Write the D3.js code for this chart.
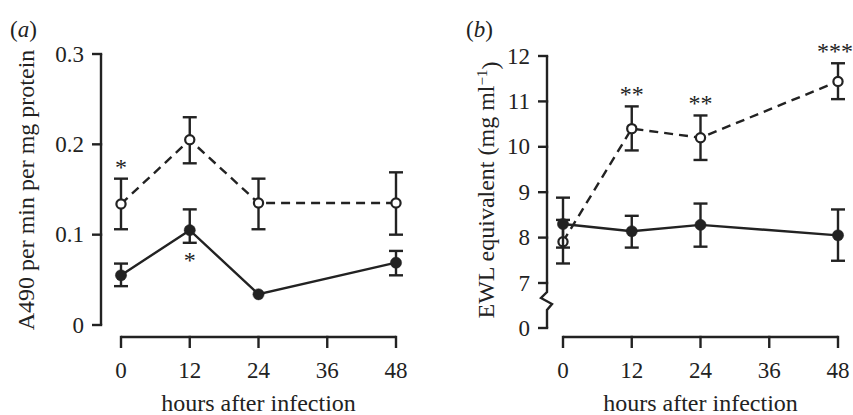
<!DOCTYPE html>
<html>
<head>
<meta charset="utf-8">
<script src="https://cdn.jsdelivr.net/npm/d3@7"></script>
<style>
  body { margin: 0; background: #fff; }
  svg { display: block; }
  text { font-family: "Liberation Serif", "Times New Roman", serif; fill: #222; }
</style>
</head>
<body>
<svg id="chart" width="853" height="415"></svg>
<script>
// x positions (hours)
var hours = [0, 12, 24, 48];
var xTicks = [0, 12, 24, 36, 48];

// panel (a): A490 per min per mg protein
var aOpen = [0.134, 0.205, 0.135, 0.135];
var aOpenLo = [0.106, 0.179, 0.106, 0.100];
var aOpenHi = [0.162, 0.230, 0.162, 0.169];
var aFilled = [0.055, 0.105, 0.034, 0.069];
var aFilledLo = [0.043, 0.091, 0.034, 0.055];
var aFilledHi = [0.068, 0.128, 0.034, 0.082];
var aTicks = [0, 0.1, 0.2, 0.3];
var aTickLabels = ["0", "0.1", "0.2", "0.3"];

// panel (b): EWL equivalent (mg ml-1)
var bOpen = [7.91, 10.40, 10.20, 11.44];
var bOpenLo = [7.43, 9.92, 9.71, 11.05];
var bOpenHi = [8.39, 10.89, 10.69, 11.84];
var bFilled = [8.30, 8.14, 8.28, 8.05];
var bFilledLo = [7.78, 7.78, 7.80, 7.49];
var bFilledHi = [8.88, 8.48, 8.75, 8.62];
var bTicks = [0, 7, 8, 9, 10, 11, 12];

// significance marks
var aStars = [{series: "open", i: 0, text: "*", above: true}, {series: "filled", i: 1, text: "*", above: false}];
var bStars = [{series: "open", i: 1, text: "**", above: true}, {series: "open", i: 2, text: "**", above: true}, {series: "open", i: 3, text: "***", above: true}];

var svg = d3.select("#chart");
var ink = "#222";
var lw = 2.4;
var fs = "23px";
var fsTitle = "24px";

function drawPanel(opt) {
	var g = svg.append("g");
	var x = d3.scaleLinear().domain([0, 48]).range(opt.xRange);
	var y = opt.y;

	// y axis
	if (opt.breakAxis) {
		var xa = opt.axisX;
		var yTop = y(12), y7 = y(7), y0 = y(0);
		g.append("path")
			.attr("d", "M" + xa + "," + yTop + "V" + (y7 + 9) + "L" + (xa - 6) + "," + (y7 + 15) +
				"L" + (xa + 5) + "," + (y7 + 21) + "L" + xa + "," + (y7 + 27) + "V" + y0)
			.attr("fill", "none").attr("stroke", ink).attr("stroke-width", lw);
	} else {
		g.append("line")
			.attr("x1", opt.axisX).attr("x2", opt.axisX)
			.attr("y1", y(opt.yTicks[opt.yTicks.length - 1])).attr("y2", y(opt.yTicks[0]))
			.attr("stroke", ink).attr("stroke-width", lw);
	}
	opt.yTicks.forEach(function(t, k) {
		g.append("line")
			.attr("x1", opt.axisX - 9).attr("x2", opt.axisX + lw / 2)
			.attr("y1", y(t)).attr("y2", y(t))
			.attr("stroke", ink).attr("stroke-width", lw);
		g.append("text")
			.attr("x", opt.axisX - 17).attr("y", y(t))
			.attr("dy", "0.33em")
			.attr("text-anchor", "end")
			.attr("font-size", fs)
			.text(opt.yTickLabels ? opt.yTickLabels[k] : t);
	});

	// x axis
	var xAxisY = 337;
	g.append("line")
		.attr("x1", x(0)).attr("x2", x(48))
		.attr("y1", xAxisY).attr("y2", xAxisY)
		.attr("stroke", ink).attr("stroke-width", lw);
	xTicks.forEach(function(t) {
		g.append("line")
			.attr("x1", x(t)).attr("x2", x(t))
			.attr("y1", xAxisY - lw / 2).attr("y2", xAxisY + 11)
			.attr("stroke", ink).attr("stroke-width", lw);
		g.append("text")
			.attr("x", x(t)).attr("y", 378)
			.attr("text-anchor", "middle")
			.attr("font-size", fs)
			.text(t);
	});
	g.append("text")
		.attr("x", (x(0) + x(48)) / 2).attr("y", 411)
		.attr("text-anchor", "middle")
		.attr("font-size", fsTitle)
		.text("hours after infection");

	// y label
	var yl = g.append("text")
		.attr("transform", "translate(" + opt.yLabelX + "," + opt.yLabelY + ") rotate(-90)")
		.attr("text-anchor", "middle")
		.attr("font-size", fsTitle);
	opt.yLabel(yl);

	// panel letter
	g.append("text")
		.attr("x", opt.letterX).attr("y", 37)
		.attr("font-size", fs)
		.html("(<tspan font-style='italic'>" + opt.letter + "</tspan>)");

	// series
	var series = [
		{name: "filled", v: opt.filled, lo: opt.filledLo, hi: opt.filledHi, dash: null, fill: ink},
		{name: "open", v: opt.open, lo: opt.openLo, hi: opt.openHi, dash: "9,6", fill: "#fff"}
	];
	var order = [series[1], series[0]];
	order.forEach(function(s) {
		var line = d3.line()
			.x(function(d, i) { return x(hours[i]); })
			.y(function(d) { return y(d); });
		g.append("path")
			.datum(s.v)
			.attr("d", line)
			.attr("fill", "none")
			.attr("stroke", ink)
			.attr("stroke-width", lw)
			.attr("stroke-dasharray", s.dash);
		s.v.forEach(function(d, i) {
			var cx = x(hours[i]);
			if (s.hi[i] !== s.lo[i]) {
				g.append("line")
					.attr("x1", cx).attr("x2", cx)
					.attr("y1", y(s.hi[i])).attr("y2", y(s.lo[i]))
					.attr("stroke", ink).attr("stroke-width", lw);
				[s.hi[i], s.lo[i]].forEach(function(e) {
					g.append("line")
						.attr("x1", cx - 7).attr("x2", cx + 7)
						.attr("y1", y(e)).attr("y2", y(e))
						.attr("stroke", ink).attr("stroke-width", lw);
				});
			}
		});
		s.v.forEach(function(d, i) {
			g.append("circle")
				.attr("cx", x(hours[i])).attr("cy", y(d))
				.attr("r", s.name === "open" ? 4.6 : 5.6)
				.attr("fill", s.fill)
				.attr("stroke", ink)
				.attr("stroke-width", s.name === "open" ? 2.2 : 0.5);
		});
	});

	// stars
	opt.stars.forEach(function(st) {
		var s = st.series === "open" ? series[1] : series[0];
		var cx = x(hours[st.i]);
		var yy = st.above ? y(s.hi[st.i]) - 4 : y(s.lo[st.i]) + 25;
		g.append("text")
			.attr("x", cx - (st.text.length > 2 ? 3 : 0)).attr("y", yy)
			.attr("text-anchor", "middle")
			.attr("font-size", "24px")
			.text(st.text);
	});
}

drawPanel({
	xRange: [121, 396],
	axisX: 101,
	y: d3.scaleLinear().domain([0, 0.3]).range([325, 54]),
	yTicks: aTicks,
	yTickLabels: aTickLabels,
	open: aOpen, openLo: aOpenLo, openHi: aOpenHi,
	filled: aFilled, filledLo: aFilledLo, filledHi: aFilledHi,
	stars: aStars,
	letter: "a", letterX: 10,
	yLabelX: 34, yLabelY: 190,
	yLabel: function(t) { t.text("A490 per min per mg protein"); }
});

drawPanel({
	xRange: [563, 838],
	axisX: 547,
	y: d3.scaleLinear().domain([0, 7, 12]).range([328, 283, 56]),
	yTicks: bTicks,
	breakAxis: true,
	open: bOpen, openLo: bOpenLo, openHi: bOpenHi,
	filled: bFilled, filledLo: bFilledLo, filledHi: bFilledHi,
	stars: bStars,
	letter: "b", letterX: 466,
	yLabelX: 494, yLabelY: 190,
	yLabel: function(t) {
		t.append("tspan").text("EWL equivalent (mg ml");
		t.append("tspan").attr("dy", "-0.45em").attr("font-size", "15px").text("\u22121");
		t.append("tspan").attr("dy", "0.45em").text(")");
	}
});
</script>
</body>
</html>
